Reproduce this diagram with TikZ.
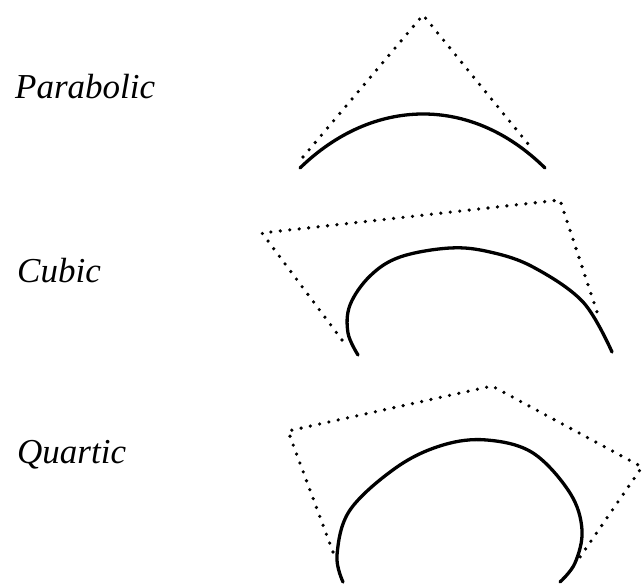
\documentclass[tikz,border=0pt]{standalone}
\usepackage{fontspec}
\setmainfont{Liberation Serif}
\begin{document}
\begin{tikzpicture}[x=1pt,y=-1pt,
  lbl/.style={anchor=base west,inner sep=0pt,font=\fontsize{35}{40}\selectfont\itshape},
  ctrl/.style={line width=3.6pt,line cap=round,dash pattern=on 0pt off 9.5pt},
  crv/.style={line width=3.3pt,line cap=round,line join=round}]
\useasboundingbox (0,0) rectangle (642,584);
\node[lbl] (parab) at (15,98) {Parabolic};
\node[lbl] (cub) at (17,282) {Cubic};
\node[lbl] (quart) at (17,463) {Quartic};
% parabolic
\draw[ctrl] (303,157) -- (423,15) -- (533,150);
\draw[crv] (300,168) .. controls (372,98) and (470,94) .. (545,168);
% cubic
\draw[ctrl] (342,340) -- (262,233) -- (560,200) -- (599,318);
\draw[crv] plot[smooth,tension=0.6] coordinates {(358,355) (348,333) (350,305) (370,276) (400,257) (450,248) (490,252) (533,267) (583,302) (612,352)};
% quartic
\draw[ctrl] (333,552) -- (288,431) -- (492,386) -- (642,467) -- (580,557);
\draw[crv] plot[smooth,tension=0.6] coordinates {(343,582) (337,555) (350,510) (397,467) (443,445) (487,440) (533,453) (570,493) (582,530) (575,563) (560,582)};
\end{tikzpicture}
\end{document}
